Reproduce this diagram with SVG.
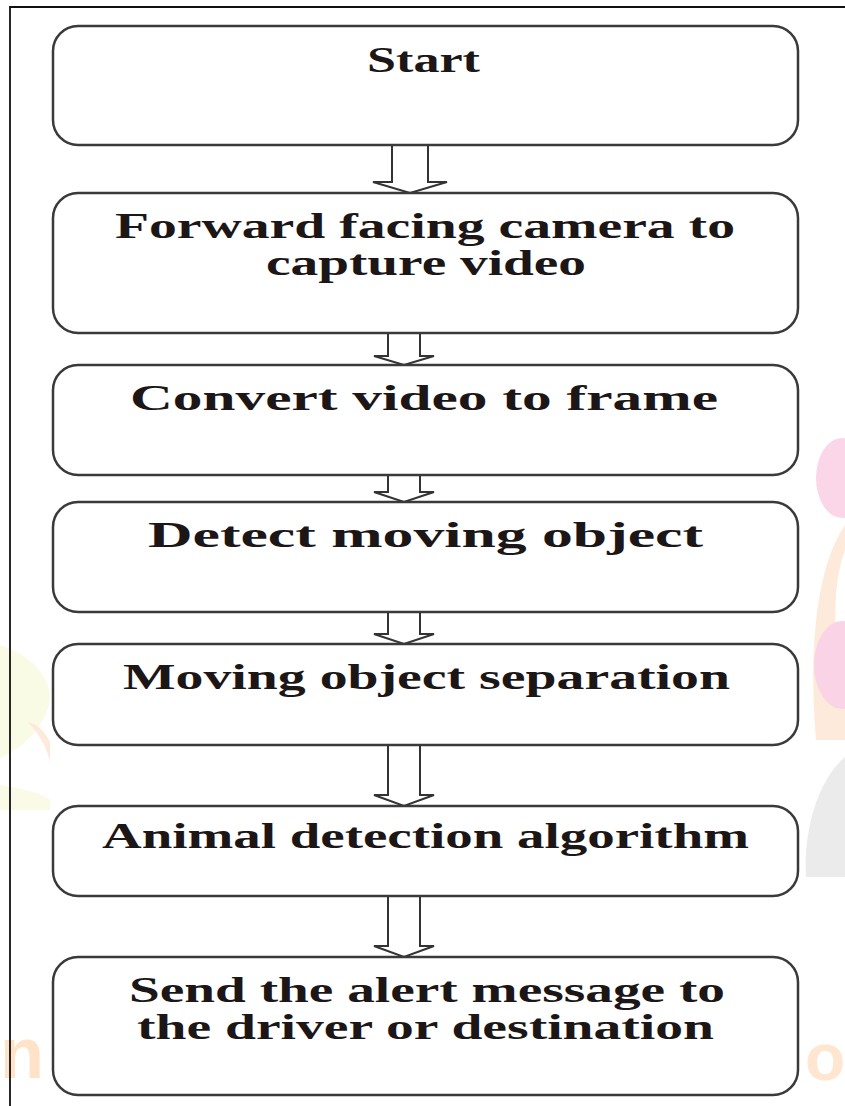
<svg xmlns="http://www.w3.org/2000/svg" width="845" height="1106" viewBox="0 0 845 1106">
<style>
.box{fill:#ffffff;stroke:#3a3a3a;stroke-width:2.5}
.arr{fill:#ffffff;stroke:#333333;stroke-width:2;stroke-linejoin:miter}
.lbl{font-family:"Liberation Serif","Times New Roman",serif;font-weight:bold;font-size:35px;fill:#1c1616}
.wm{stroke:none}
.wmt{font-family:"Liberation Sans",Arial,sans-serif;font-weight:bold}
</style>
<rect x="0" y="0" width="845" height="1106" fill="#ffffff"/>
<g id="watermark">
<ellipse class="wm" cx="842" cy="478" rx="26" ry="40" fill="#fbd6e8"/>
<path class="wm" d="M845,525 C818,565 808,640 816,740 L845,740 L845,700 C832,640 832,585 845,550 Z" fill="#fdeadb"/>
<ellipse class="wm" cx="842" cy="665" rx="28" ry="44" fill="#fbd3e6"/>
<path class="wm" d="M845,757 C818,780 803,830 806,877 L845,877 Z" fill="#ebebeb"/>
<path class="wm" d="M0,645 C30,655 50,675 50,700 C45,728 22,748 0,758 Z" fill="#f9fbe4"/>
<path class="wm" d="M28,722 C40,735 47,748 50,762 L50,742 C45,732 38,724 28,722 Z" fill="#fdeadb"/>
<path class="wm" d="M0,785 C20,788 40,792 50,800 L50,810 L0,810 Z" fill="#fafbe6"/>
<text class="wmt" x="0" y="1078" font-size="72" fill="#ffe2c8">n</text>
<text class="wmt" x="805" y="1080" font-size="66" fill="#ffe6d0">o</text>
</g>
<rect x="50" y="18" width="752" height="1082" fill="#ffffff"/>
<path d="M10,1106 V7 H845" fill="none" stroke="#111111" stroke-width="1.8"/>
<g id="connectors">
<polygon class="arr" points="392,145 392,182 373,182 410,193 447,182 428,182 428,145"/>
<polygon class="arr" points="388,333 388,356 374,356 404,365 434,356 420,356 420,333"/>
<polygon class="arr" points="388,475 388,492 374,492 404,502 434,492 420,492 420,475"/>
<polygon class="arr" points="388,612 388,634 374,634 404,644 434,634 420,634 420,612"/>
<polygon class="arr" points="388,745 388,795 374,795 404,806 434,795 420,795 420,745"/>
<polygon class="arr" points="388,896 388,946 374,946 404,957 434,946 420,946 420,896"/>
</g>
<g id="n1"><rect class="box" x="53" y="26" width="745" height="119" rx="25"/>
<text class="lbl" x="367" y="72" textLength="113" lengthAdjust="spacingAndGlyphs">Start</text></g>
<g id="n2"><rect class="box" x="53" y="193" width="745" height="140" rx="25"/>
<text class="lbl" x="115" y="238" textLength="620" lengthAdjust="spacingAndGlyphs">Forward facing camera to</text>
<text class="lbl" x="266" y="275" textLength="320" lengthAdjust="spacingAndGlyphs">capture video</text></g>
<g id="n3"><rect class="box" x="53" y="365" width="745" height="110" rx="25"/>
<text class="lbl" x="130" y="410" textLength="588" lengthAdjust="spacingAndGlyphs">Convert video to frame</text></g>
<g id="n4"><rect class="box" x="53" y="502" width="745" height="110" rx="25"/>
<text class="lbl" x="148" y="547" textLength="555" lengthAdjust="spacingAndGlyphs">Detect moving object</text></g>
<g id="n5"><rect class="box" x="53" y="644" width="745" height="101" rx="25"/>
<text class="lbl" x="123" y="689" textLength="607" lengthAdjust="spacingAndGlyphs">Moving object separation</text></g>
<g id="n6"><rect class="box" x="53" y="806" width="745" height="90" rx="25"/>
<text class="lbl" x="102" y="848" textLength="647" lengthAdjust="spacingAndGlyphs">Animal detection algorithm</text></g>
<g id="n7"><rect class="box" x="53" y="957" width="745" height="138" rx="25"/>
<text class="lbl" x="129" y="1002" textLength="596" lengthAdjust="spacingAndGlyphs">Send the alert message to</text>
<text class="lbl" x="137" y="1039" textLength="577" lengthAdjust="spacingAndGlyphs">the driver or destination</text></g>
</svg>
